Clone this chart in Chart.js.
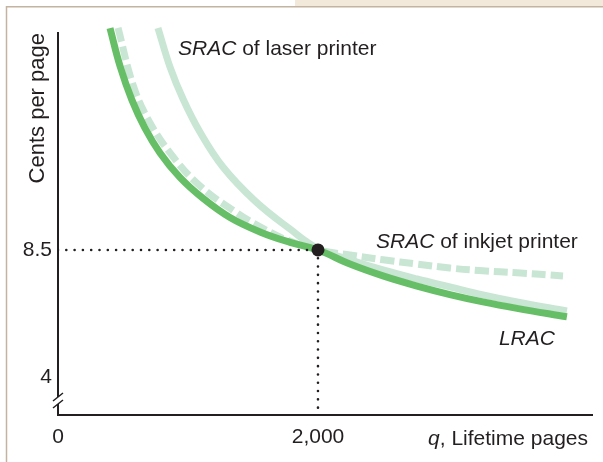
<!DOCTYPE html>
<html>
<head>
<meta charset="utf-8">
<script src="https://cdn.jsdelivr.net/npm/chart.js@4.4.1/dist/chart.umd.min.js"></script>
<style>
  html, body { margin: 0; padding: 0; background: #fff; }
</style>
</head>
<body>
<canvas id="costChart" width="603" height="462"></canvas>
<script>
// q (lifetime pages) and cents per page
let lracPages = [400, 477, 569, 669, 785, 938, 1115, 1323, 1554, 1785, 2000, 2246, 2500, 2762, 3015, 3269, 3531, 3915];
let lracCents = [16.36, 15.02, 13.81, 12.82, 11.94, 11.07, 10.33, 9.65, 9.14, 8.77, 8.5, 8.00, 7.58, 7.22, 6.92, 6.66, 6.43, 6.13];

let laserPages = [769, 862, 962, 1092, 1269, 1515, 1785, 2000, 2246, 2500, 2762, 3015, 3269, 3531, 3915];
let laserCents = [16.37, 14.98, 13.85, 12.68, 11.44, 10.24, 9.24, 8.55, 8.15, 7.79, 7.47, 7.19, 6.91, 6.66, 6.34];

let inkjetPages = [462, 577, 692, 862, 1092, 1377, 1554, 1762, 2000, 2246, 2500, 2762, 3015, 3269, 3531, 3885];
let inkjetCents = [16.37, 14.35, 13.14, 11.94, 10.77, 9.81, 9.32, 8.85, 8.5, 8.32, 8.15, 8.00, 7.86, 7.76, 7.69, 7.58];

let optimumPages = 2000;
let optimumCents = 8.5;

let xTickValues = [0, 2000];
let yTickValues = [4, 8.5];

let ink = '#231f20';
let darkGreen = '#66be66';
let paleGreen = '#c8e6d3';
let fontFamily = "'Liberation Sans', Arial, Helvetica, sans-serif";

function toPoints(xs, ys) {
    return xs.map((x, i) => ({ x: x, y: ys[i] }));
}

// light tan frame round the figure
let framePlugin = {
    id: 'frame',
    beforeDraw(chart) {
        let ctx = chart.ctx;
        ctx.save();
        ctx.fillStyle = '#ffffff';
        ctx.fillRect(0, 0, chart.width, chart.height);
        ctx.fillStyle = '#f3e9da';
        ctx.fillRect(295, 0, chart.width - 295, 6);
        ctx.strokeStyle = '#c4b3a1';
        ctx.lineWidth = 1.5;
        ctx.beginPath();
        ctx.moveTo(6.5, chart.height);
        ctx.lineTo(6.5, 6.75);
        ctx.lineTo(chart.width, 6.75);
        ctx.stroke();
        ctx.restore();
    }
};

// the // break on the cost axis
let axisBreakPlugin = {
    id: 'axisBreak',
    afterDraw(chart) {
        let ctx = chart.ctx;
        let x = chart.chartArea.left;
        let b = chart.chartArea.bottom;
        ctx.save();
        ctx.fillStyle = '#ffffff';
        ctx.fillRect(x - 2, b - 18, 4, 7);
        ctx.strokeStyle = ink;
        ctx.lineWidth = 1.5;
        ctx.beginPath();
        ctx.moveTo(x - 5, b - 14);
        ctx.lineTo(x + 5, b - 22);
        ctx.moveTo(x - 5, b - 7);
        ctx.lineTo(x + 5, b - 15);
        ctx.stroke();
        ctx.restore();
    }
};

function drawRuns(ctx, runs, x, y, align) {
    let size = 21;
    let total = 0;
    runs.forEach(r => {
        ctx.font = (r.italic ? 'italic ' : '') + size + 'px ' + fontFamily;
        r.w = ctx.measureText(r.text).width;
        total += r.w;
    });
    let cx = align === 'right' ? x - total : x;
    ctx.textBaseline = 'alphabetic';
    ctx.textAlign = 'left';
    ctx.fillStyle = ink;
    runs.forEach(r => {
        ctx.font = (r.italic ? 'italic ' : '') + size + 'px ' + fontFamily;
        ctx.fillText(r.text, cx, y);
        cx += r.w;
    });
}

// curve labels and the q axis title (mixed italic)
let labelPlugin = {
    id: 'curveLabels',
    afterDatasetsDraw(chart) {
        let ctx = chart.ctx;
        let xs = chart.scales.x;
        let ys = chart.scales.y;
        ctx.save();
        drawRuns(ctx, [{ text: 'SRAC', italic: true }, { text: ' of laser printer' }],
            xs.getPixelForValue(923), ys.getPixelForValue(15.41), 'left');
        drawRuns(ctx, [{ text: 'SRAC', italic: true }, { text: ' of inkjet printer' }],
            xs.getPixelForValue(2446), ys.getPixelForValue(8.57), 'left');
        drawRuns(ctx, [{ text: 'LRAC', italic: true }],
            xs.getPixelForValue(3392), ys.getPixelForValue(5.13), 'left');
        drawRuns(ctx, [{ text: 'q', italic: true }, { text: ', Lifetime pages' }],
            chart.chartArea.right - 4, chart.chartArea.bottom + 30, 'right');
        ctx.restore();
    }
};

let ctxCost = document.getElementById('costChart');

let costChart = new Chart(ctxCost, {
    type: 'line',
    data: {
        datasets: [
            {
                label: 'Optimum',
                data: [{ x: optimumPages, y: optimumCents }],
                showLine: false,
                pointRadius: 6.5,
                pointBackgroundColor: ink,
                pointBorderWidth: 0,
                order: 0,
                clip: false,
            },
            {
                label: 'guide-h',
                data: [{ x: 0, y: optimumCents }, { x: optimumPages, y: optimumCents }],
                borderColor: ink,
                borderWidth: 2.6,
                borderDash: [0, 8.3],
                borderCapStyle: 'round',
                pointRadius: 0,
                order: 1,
            },
            {
                label: 'guide-v',
                data: [{ x: optimumPages, y: optimumCents }, { x: optimumPages, y: 2.65 }],
                borderColor: ink,
                borderWidth: 2.6,
                borderDash: [0, 8.3],
                borderCapStyle: 'round',
                pointRadius: 0,
                order: 1,
            },
            {
                label: 'LRAC',
                data: toPoints(lracPages, lracCents),
                borderColor: darkGreen,
                borderWidth: 7,
                pointRadius: 0,
                tension: 0.4,
                order: 2,
                clip: false,
            },
            {
                label: 'SRAC of inkjet printer',
                data: toPoints(inkjetPages, inkjetCents),
                borderColor: paleGreen,
                borderWidth: 7,
                borderDash: [14, 5],
                pointRadius: 0,
                tension: 0.4,
                order: 3,
                clip: false,
            },
            {
                label: 'SRAC of laser printer',
                data: toPoints(laserPages, laserCents),
                borderColor: paleGreen,
                borderWidth: 7,
                pointRadius: 0,
                tension: 0.4,
                order: 4,
                clip: false,
            },
        ]
    },
    options: {
        responsive: false,
        animation: false,
        events: [],
        layout: { padding: { top: 33, right: 11, left: 0, bottom: 0 } },
        plugins: {
            legend: { display: false },
            tooltip: { enabled: false },
        },
        scales: {
            x: {
                type: 'linear',
                min: 0,
                max: 4108,
                grid: { display: false, drawTicks: false },
                border: { display: true, color: ink, width: 2 },
                ticks: {
                    padding: 10,
                    color: ink,
                    font: { family: fontFamily, size: 21 },
                    callback: v => v.toLocaleString('en-US'),
                },
                afterBuildTicks: s => { s.ticks = xTickValues.map(v => ({ value: v })); },
                afterFit: s => { s.height = 47; s.paddingLeft = 0; s.paddingRight = 0; },
            },
            y: {
                type: 'linear',
                min: 2.65,
                max: 16.19,
                grid: { display: false, drawTicks: false },
                border: { display: true, color: ink, width: 2 },
                ticks: {
                    padding: 6,
                    color: ink,
                    font: { family: fontFamily, size: 21 },
                    callback: v => String(v),
                },
                title: {
                    display: true,
                    text: 'Cents per page',
                    align: 'end',
                    color: ink,
                    font: { family: fontFamily, size: 22 },
                    padding: { top: 25, bottom: 0 },
                },
                afterBuildTicks: s => { s.ticks = yTickValues.map(v => ({ value: v })); },
                afterFit: s => { s.width = 58; s.paddingTop = 0; s.paddingBottom = 0; },
            },
        },
    },
    plugins: [framePlugin, axisBreakPlugin, labelPlugin],
});
</script>
</body>
</html>
